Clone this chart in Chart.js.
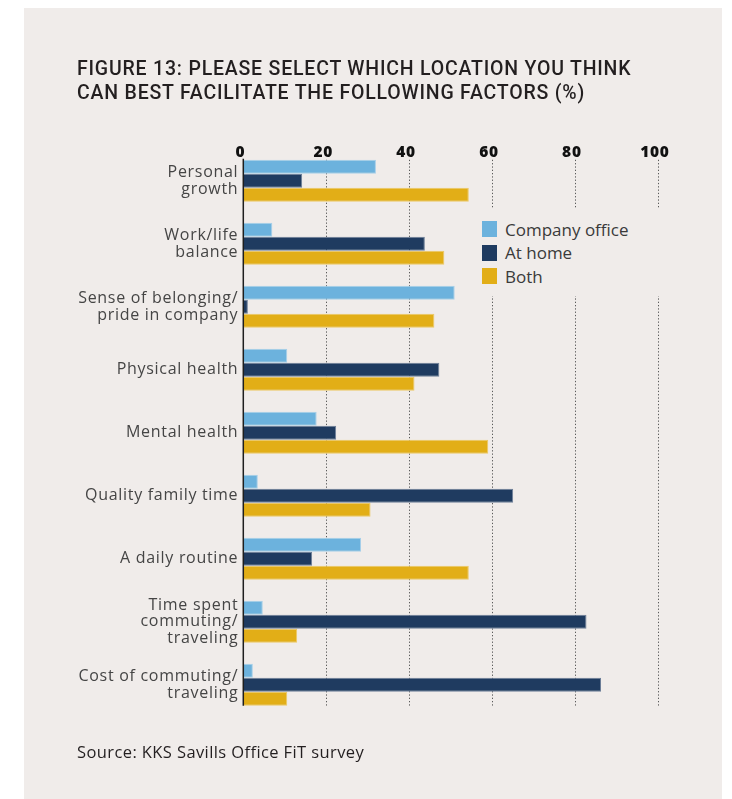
<!DOCTYPE html>
<html>
<head>
<meta charset="utf-8">
<script src="https://cdn.jsdelivr.net/npm/chart.js@4.4.1/dist/chart.umd.min.js"></script>
<style>
  body { margin: 0; background: #fff; }
  #wrap { position: relative; width: 732px; height: 799px; overflow: hidden; }
  .panel { position: absolute; left: 24px; top: 8px; width: 698px; height: 791px; background: #f0ecea; }
  #chart { position: absolute; left: 0; top: 0; }
  .title { position: absolute; left: 77px; top: 57px; font: 500 19.5px/23.6px Roboto, sans-serif; letter-spacing: 0.8px; color: #231f20; white-space: nowrap; }
  .source { position: absolute; left: 77px; top: 742px; font: 400 16.5px/20px "Open Sans", sans-serif; letter-spacing: 0.4px; color: #231f20; white-space: nowrap; }
  #legend { position: absolute; left: 475px; top: 208px; width: 192px; height: 88px; background: #f0ecea; }
  .legend-item { position: absolute; left: 7px; display: flex; align-items: center; font: 400 17px "Open Sans", sans-serif; color: #3a3a3a; white-space: nowrap; }
  .legend-item span.box { display: inline-block; width: 15px; height: 16px; margin-right: 8px; }
</style>
</head>
<body>
<div id="wrap">
  <div class="panel"></div>
  <canvas id="chart" width="732" height="799"></canvas>
  <div class="title">FIGURE 13: PLEASE SELECT WHICH LOCATION YOU THINK<br>CAN BEST FACILITATE THE FOLLOWING FACTORS (%)</div>
  <div id="legend"></div>
  <div class="source">Source: KKS Savills Office FiT survey</div>
</div>
<script>
const factors = [
  ['Personal', 'growth'],
  ['Work/life', 'balance'],
  ['Sense of belonging/', 'pride in company'],
  'Physical health',
  'Mental health',
  'Quality family time',
  'A daily routine',
  ['Time spent', 'commuting/', 'traveling'],
  ['Cost of commuting/', 'traveling']
];
const seriesNames = ['Company office', 'At home', 'Both'];
const companyOffice = [32, 7, 51, 10.6, 17.7, 3.5, 28.4, 4.7, 2.3];
const atHome = [14.2, 43.8, 1.1, 47.3, 22.4, 65.1, 16.6, 82.8, 86.3];
const both = [54.4, 48.5, 46.1, 41.3, 59.1, 30.7, 54.4, 13, 10.6];
const xTicks = [0, 20, 40, 60, 80, 100];

const colors = ['#6cb2dd', '#1f3b60', '#e2ae17'];
const edgeColors = ['#a6cfe9', '#6d7f98', '#ecc866'];
const groupShare = 0.667;

// wider lettering, the original face is a wide geometric one
const spacingPlugin = {
  id: 'spacing',
  beforeUpdate(chart) { chart.ctx.letterSpacing = '0.7px'; },
  beforeDraw(chart) { chart.ctx.letterSpacing = '0.7px'; }
};

// dotted grid + solid zero line, only as tall as the bar groups
const gridPlugin = {
  id: 'dottedGrid',
  beforeDatasetsDraw(chart) {
    const { ctx, scales: { x, y } } = chart;
    const band = y.getPixelForTick(1) - y.getPixelForTick(0);
    const top = y.getPixelForTick(0) - band * groupShare / 2;
    const bottom = y.getPixelForTick(y.ticks.length - 1) + band * groupShare / 2;
    ctx.save();
    ctx.strokeStyle = '#5a5a5a';
    ctx.lineWidth = 1;
    ctx.setLineDash([1.3, 2]);
    xTicks.slice(1).forEach(v => {
      const px = Math.round(x.getPixelForValue(v)) + 0.5;
      ctx.beginPath();
      ctx.moveTo(px, top);
      ctx.lineTo(px, bottom);
      ctx.stroke();
    });
    ctx.restore();
  },
  afterDatasetsDraw(chart) {
    const { ctx, scales: { x, y } } = chart;
    const band = y.getPixelForTick(1) - y.getPixelForTick(0);
    const top = y.getPixelForTick(0) - band * groupShare / 2 - 1;
    const bottom = y.getPixelForTick(y.ticks.length - 1) + band * groupShare / 2;
    const px = x.getPixelForValue(0);
    ctx.save();
    ctx.strokeStyle = '#1e1e1e';
    ctx.lineWidth = 1.5;
    ctx.beginPath();
    ctx.moveTo(px, top);
    ctx.lineTo(px, bottom);
    ctx.stroke();
    ctx.restore();
  }
};

const chart = new Chart(document.getElementById('chart'), {
  type: 'bar',
  data: {
    labels: factors,
    datasets: [companyOffice, atHome, both].map((vals, i) => ({
      label: seriesNames[i],
      data: vals,
      backgroundColor: colors[i],
      borderColor: edgeColors[i],
      borderWidth: 1,
      borderSkipped: 'start',
      barPercentage: 1,
      categoryPercentage: groupShare
    }))
  },
  options: {
    indexAxis: 'y',
    responsive: false,
    animation: false,
    layout: {
      padding: { left: 0, right: 74.2, top: 0, bottom: 82.7 }
    },
    plugins: {
      legend: { display: false },
      tooltip: { enabled: false }
    },
    scales: {
      x: {
        position: 'top',
        min: 0,
        max: 100,
        afterBuildTicks: (scale) => { scale.ticks = xTicks.map(v => ({ value: v })); },
        afterFit: (scale) => { scale.height = 149.3; },
        grid: { display: false, drawTicks: false },
        border: { display: false },
        ticks: {
          mirror: true,
          padding: -4,
          labelOffset: -3,
          color: '#111',
          font: { family: 'Open Sans', size: 15.5, weight: '800', lineHeight: 1 }
        }
      },
      y: {
        afterFit: (scale) => { scale.width = 243.3; },
        grid: { display: false, drawTicks: false },
        border: { display: false },
        ticks: {
          padding: 5,
          color: '#454545',
          font: { family: 'Open Sans', size: 16, weight: '400', lineHeight: 1.03 }
        }
      }
    }
  },
  plugins: [spacingPlugin, gridPlugin]
});

// html legend, sits over the grid like the original
const legendEl = document.getElementById('legend');
chart.data.datasets.forEach((ds, i) => {
  const item = document.createElement('div');
  item.className = 'legend-item';
  item.style.top = (9.5 + i * 23.5) + 'px';
  item.innerHTML = `<span class='box' style='background:${ds.backgroundColor}'></span>${ds.label}`;
  legendEl.appendChild(item);
});
</script>
</body>
</html>
